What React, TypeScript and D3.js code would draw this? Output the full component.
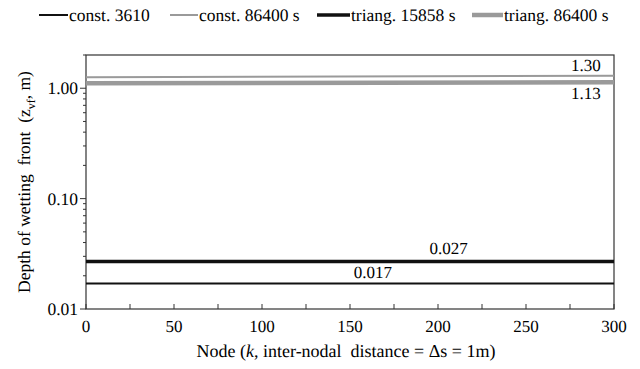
import React, { useEffect, useRef } from "react";
import * as d3 from "d3";

// node positions (k) and wetting-front depths (m)
const nodes = [0, 300];
const const3610 = [0.017, 0.017];
const const86400 = [1.26, 1.3];
const triang15858 = [0.027, 0.027];
const triang86400 = [1.11, 1.13];

const yTickValues = [0.01, 0.1, 1];
const xTickValues = [0, 50, 100, 150, 200, 250, 300];

const seriesNames = ["const. 3610", "const. 86400 s", "triang. 15858 s", "triang. 86400 s"];
const seriesColors = ["#111", "#9a9a9a", "#111", "#9a9a9a"];
const seriesWidths = [2, 2, 3.5, 4.5];

const FONT = "'Liberation Serif', 'Times New Roman', 'DejaVu Serif', serif";

const App = () => {
  const svgRef = useRef<SVGSVGElement>(null);

  useEffect(() => {
    const W = 640, H = 369;
    const margin = { top: 55, right: 26, bottom: 60, left: 86 };
    const svg = d3.select(svgRef.current);
    svg.selectAll("*").remove();
    svg.attr("width", W).attr("height", H).attr("text-rendering", "geometricPrecision");

    const x = d3.scaleLinear().domain([0, 300]).range([margin.left, W - margin.right]);
    const y = d3.scaleLog().domain([0.01, 2]).range([H - margin.bottom, margin.top]);

    const series = [const3610, const86400, triang15858, triang86400];

    // frame
    svg.append("rect")
      .attr("x", x(0)).attr("y", y(2))
      .attr("width", x(300) - x(0)).attr("height", y(0.01) - y(2))
      .attr("fill", "none").attr("stroke", "#333").attr("stroke-width", 1.2);

    // y ticks (log, major + minor)
    const minor: number[] = [];
    [0.01, 0.1, 1].forEach(d => { for (let i = 2; i <= 9; i++) if (d * i <= 2) minor.push(d * i); });
    svg.selectAll(".ymin").data(minor).enter().append("line")
      .attr("x1", x(0) - 3).attr("x2", x(0))
      .attr("y1", d => y(d)).attr("y2", d => y(d))
      .attr("stroke", "#333");
    svg.selectAll(".ymaj").data(yTickValues).enter().append("line")
      .attr("x1", x(0) - 6).attr("x2", x(0))
      .attr("y1", d => y(d)).attr("y2", d => y(d))
      .attr("stroke", "#333");
    svg.selectAll(".ylab").data(yTickValues).enter().append("text")
      .attr("x", x(0) - 8).attr("y", d => y(d)).attr("dy", "0.35em")
      .attr("text-anchor", "end").style("font-size", "17.5px").style("font-family", FONT)
      .text(d => d3.format(".2f")(d));

    // x ticks
    const xMinor = d3.range(25, 300, 50);
    svg.selectAll(".xtick").data([...xTickValues, ...xMinor]).enter().append("line")
      .attr("x1", d => x(d)).attr("x2", d => x(d))
      .attr("y1", y(0.01)).attr("y2", y(0.01) - 5)
      .attr("stroke", "#333");
    svg.selectAll(".xlab").data(xTickValues).enter().append("text")
      .attr("x", d => x(d)).attr("y", y(0.01) + 23)
      .attr("text-anchor", "middle").style("font-size", "17px").style("font-family", FONT)
      .text(d => d);

    // series lines
    const line = d3.line<number>().x((_, i) => x(nodes[i])).y(d => y(d));
    series.forEach((s, i) => {
      svg.append("path").datum(s).attr("d", line)
        .attr("fill", "none").attr("stroke", seriesColors[i]).attr("stroke-width", seriesWidths[i]);
    });

    // value annotations
    const notes = [
      { t: "1.30", xv: 284, v: const86400[1], dy: -5 },
      { t: "1.13", xv: 284, v: triang86400[1], dy: 17 },
      { t: "0.027", xv: 206, v: triang15858[1], dy: -7 },
      { t: "0.017", xv: 163, v: const3610[1], dy: -6 },
    ];
    svg.selectAll(".note").data(notes).enter().append("text")
      .attr("x", d => x(d.xv)).attr("y", d => y(d.v) + d.dy)
      .attr("text-anchor", "middle").style("font-size", "17px").style("font-family", FONT)
      .text(d => d.t);

    // axis titles
    const xt = svg.append("text").attr("x", 346).attr("y", 357)
      .attr("text-anchor", "middle").style("font-size", "18px").style("font-family", FONT)
      .style("white-space", "pre");
    xt.append("tspan").text("Node (");
    xt.append("tspan").attr("font-style", "italic").text("k");
    xt.append("tspan").text(", inter-nodal  distance = \u0394s = 1m)");

    const yt = svg.append("text")
      .attr("transform", `translate(30, ${(y(0.01) + y(2)) / 2}) rotate(-90)`)
      .attr("text-anchor", "middle").style("font-size", "17.5px").style("font-family", FONT)
      .style("white-space", "pre");
    yt.append("tspan").text("Depth of wetting  front  (z");
    yt.append("tspan").style("font-size", "12px").attr("dy", 5).text("vf");
    yt.append("tspan").attr("dy", -5).text(", m)");

    // legend
    const legendX = [39, 170, 317, 472];
    const legendLen = [29, 28, 33, 31];
    const lg = svg.append("g");
    seriesNames.forEach((name, i) => {
      lg.append("line")
        .attr("x1", legendX[i]).attr("x2", legendX[i] + legendLen[i])
        .attr("y1", 15).attr("y2", 15)
        .attr("stroke", seriesColors[i]).attr("stroke-width", seriesWidths[i]);
      lg.append("text")
        .attr("x", legendX[i] + legendLen[i] + 1).attr("y", 15).attr("dy", "0.35em")
        .style("font-size", "17.5px").style("font-family", FONT).text(name);
    });
  }, []);

  return (
    <svg ref={svgRef} style={{ display: "block", margin: "-8px", fontFamily: FONT }}></svg>
  );
};

export default App;
